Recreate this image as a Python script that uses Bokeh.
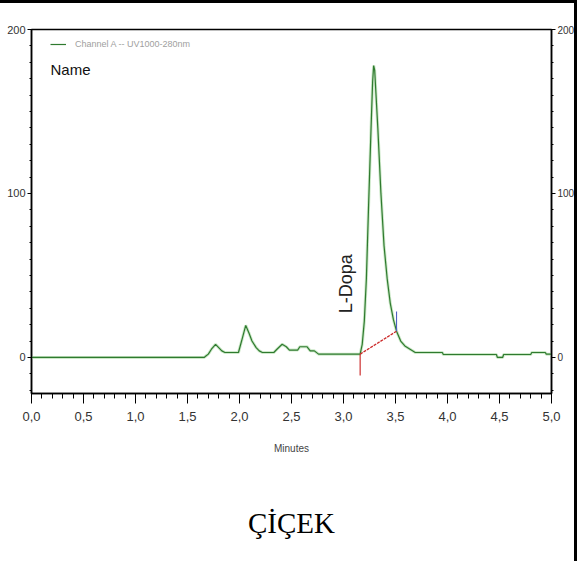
import math
from bokeh.plotting import figure
from bokeh.models import (LinearAxis, SingleIntervalTicker, CustomJSTickFormatter,
                          Label, Legend, LegendItem)
from bokeh.embed import file_html
from bokeh.resources import INLINE

# ---- data (minutes, mAU) ----
time_min = [0.00, 1.66, 1.68, 1.70, 1.73, 1.77, 1.80, 1.83, 1.86, 1.99, 2.02, 2.06,
            2.09, 2.12, 2.16, 2.19, 2.22, 2.33, 2.36, 2.41, 2.45, 2.48, 2.56, 2.58,
            2.65, 2.68, 2.72, 2.76, 3.15, 3.16, 3.18, 3.20, 3.22, 3.24, 3.265, 3.28,
            3.29, 3.30, 3.33, 3.36, 3.39, 3.42, 3.45, 3.48, 3.51, 3.55, 3.59, 3.64,
            3.69, 3.95, 3.96, 4.47, 4.48, 4.53, 4.54, 4.80, 4.81, 4.94, 4.95, 5.00]
signal = [0, 0, 1, 2, 5, 8, 6, 4, 3, 3, 10, 19.5,
          15, 10, 6, 4, 3, 3, 5, 8, 6.5, 4.5, 4.5, 6.5,
          6.5, 4, 4, 2, 2, 2, 8, 22, 48, 90, 140, 168,
          178, 175, 140, 100, 68, 48, 33, 23, 16, 10, 7, 5,
          3, 3, 1.8, 1.8, 0, 0, 1.8, 1.8, 3, 3, 2, 2]

baseline_t = [3.16, 3.51]
baseline_v = [2, 16]
start_mark_t = [3.16, 3.16]
start_mark_v = [2, -11]
end_mark_t = [3.51, 3.51]
end_mark_v = [16, 28]

x_ticks_interval = 0.5
y_ticks_interval = 100
series_label = "Channel A -- UV1000-280nm"
peak_name = "L-Dopa"
sample_name = "ÇİÇEK"

NARROW = "Liberation Sans"

p = figure(width=577, height=561, x_range=(0, 5), y_range=(-22, 200),
           min_border_left=31, min_border_right=26, min_border_top=26,
           min_border_bottom=171, output_backend="svg", toolbar_location=None)
p.styles = {"border-top": "3px solid black", "border-right": "3px solid black"}
p.xgrid.visible = False
p.ygrid.visible = False
p.outline_line_color = "black"
p.outline_line_width = 1.5
p.background_fill_color = "white"
p.border_fill_color = "white"

# trace with soft halo
p.line(time_min, signal, line_color="#bfe2ba", line_width=3.0, line_alpha=0.8)
r = p.line(time_min, signal, line_color="#2f7a2f", line_width=1.2)

# integration baseline and markers
p.line(baseline_t, baseline_v, line_color="#cc2a2a", line_width=1.3, line_dash="3 1")
p.line(start_mark_t, start_mark_v, line_color="#c81e1e", line_width=1.1)
p.line(end_mark_t, end_mark_v, line_color="#5060c0", line_width=1.1)

# axes
fmt = CustomJSTickFormatter(code="return tick.toFixed(1).replace('.', ',');")
xa = p.xaxis[0]
xa.ticker = SingleIntervalTicker(interval=x_ticks_interval, num_minor_ticks=5)
xa.formatter = fmt
xa.major_tick_out = 10
xa.major_tick_in = 0
xa.minor_tick_out = 5
xa.minor_tick_in = 0
xa.major_label_standoff = 8
xa.major_label_text_font = NARROW
xa.major_label_text_font_size = "13px"
xa.major_label_text_color = "#333333"
xa.axis_line_width = 1.5
xa.axis_label = "Minutes"
xa.axis_label_text_font = NARROW
xa.axis_label_text_font_size = "10px"
xa.axis_label_text_font_style = "normal"
xa.axis_label_text_color = "#444444"
xa.axis_label_standoff = 19

def style_y(ax, size):
    ax.ticker = SingleIntervalTicker(interval=y_ticks_interval, num_minor_ticks=10)
    ax.major_tick_out = 4
    ax.major_tick_in = 0
    ax.minor_tick_out = 2
    ax.minor_tick_in = 0
    ax.major_label_standoff = 2
    ax.major_label_text_font = NARROW
    ax.major_label_text_font_size = size
    ax.major_label_text_color = "#333333"
    ax.axis_line_width = 1.5

style_y(p.yaxis[0], "11px")
ra = LinearAxis()
style_y(ra, "10px")
p.add_layout(ra, "right")

# sample name as a bare axis label below the chart
name_axis = LinearAxis(axis_label=sample_name)
name_axis.ticker = SingleIntervalTicker(interval=10, num_minor_ticks=0)
name_axis.axis_line_alpha = 0
name_axis.major_tick_line_alpha = 0
name_axis.minor_tick_line_alpha = 0
name_axis.major_label_text_alpha = 0
name_axis.major_tick_out = 0
name_axis.major_tick_in = 0
name_axis.major_label_text_font_size = "1px"
name_axis.axis_label_text_font = "Liberation Serif"
name_axis.axis_label_text_font_size = "29px"
name_axis.axis_label_text_font_style = "normal"
name_axis.axis_label_text_color = "#000000"
name_axis.axis_label_standoff = 50
p.add_layout(name_axis, "below")

# legend
legend = Legend(items=[LegendItem(label=series_label, renderers=[r])],
                location=(19, 344), orientation="vertical",
                background_fill_alpha=0, border_line_alpha=0,
                padding=0, margin=0, label_standoff=9, glyph_width=16,
                glyph_height=10, label_height=10, spacing=0,
                label_text_font=NARROW, label_text_font_size="9px",
                label_text_color="#a0a0a0")
p.add_layout(legend)

p.add_layout(Label(x=0.183, y=181, text="Name", text_font=NARROW,
                   text_font_size="15px", text_color="#111111",
                   text_baseline="top", text_align="left"))
p.add_layout(Label(x=3.02, y=45, text=peak_name, angle=math.pi / 2,
                   text_font="Liberation Sans", text_font_size="18px",
                   text_color="#222222", text_align="center",
                   text_baseline="middle"))

open("out.html", "w").write(file_html(p, INLINE))
